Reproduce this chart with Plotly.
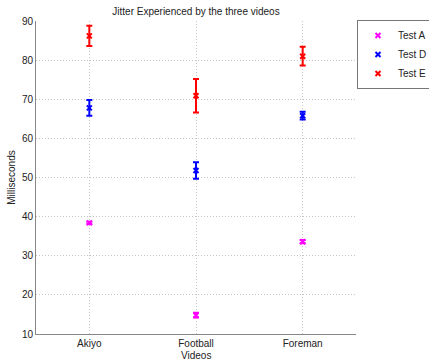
import plotly.graph_objects as go

videos = ["Akiyo", "Football", "Foreman"]
series_names = ["Test A", "Test D", "Test E"]
colors = ["#ff00ff", "#0000ff", "#ff0000"]
test_a = [38.4, 14.8, 33.6]
test_a_err = [0.3, 0.6, 0.4]
test_d = [67.8, 51.8, 65.8]
test_d_err = [2.0, 2.1, 1.0]
test_e = [86.2, 70.9, 81.0]
test_e_err = [2.6, 4.3, 2.4]

values = [test_a, test_d, test_e]
errors = [test_a_err, test_d_err, test_e_err]

font = "Liberation Sans, Arial, sans-serif"
fig = go.Figure()
for name, col, v, e in zip(series_names, colors, values, errors):
    fig.add_trace(go.Scatter(
        x=videos, y=v, name=name, mode="markers",
        marker=dict(symbol="x-thin", size=5, color=col, line=dict(width=2, color=col)),
        error_y=dict(type="data", array=e, visible=True, color=col, thickness=2, width=3),
    ))

fig.update_layout(
    width=429, height=360,
    margin=dict(l=36, r=73, t=21, b=26, autoexpand=False),
    paper_bgcolor="white", plot_bgcolor="white",
    font=dict(family=font, size=10, color="#222"),
    title=dict(text="Jitter Experienced by the three videos", x=(36+160)/429, xanchor="center",
               y=1-11/360, yanchor="middle", font=dict(size=10, family=font, color="#222")),
    showlegend=True,
    legend=dict(xref="container", yref="container", x=357/429, y=1-20/360, xanchor="left", yanchor="top",
                bordercolor="#777", borderwidth=1, bgcolor="white",
                font=dict(size=10, family=font), itemwidth=30, tracegroupgap=0),
    xaxis=dict(range=[-0.5, 2.5], showgrid=True, gridcolor="#c4c4c4", griddash="1px,2px", gridwidth=1,
               showline=True, linecolor="#888", linewidth=1, ticks="", zeroline=False, automargin=False,
               tickfont=dict(size=10)),
    yaxis=dict(range=[10, 90], dtick=10, showgrid=True, gridcolor="#c4c4c4", griddash="1px,2px", gridwidth=1,
               showline=True, linecolor="#888", linewidth=1, ticks="", zeroline=False, automargin=False,
               title=dict(text="Milliseconds", standoff=4, font=dict(size=10)), tickfont=dict(size=10)),
    annotations=[dict(text="Videos", xref="paper", yref="paper", x=0.5, y=-(355 - 334) / 313,
                      xanchor="center", yanchor="middle", showarrow=False,
                      font=dict(size=10, family=font, color="#222"))],
)
fig.write_html("out.html")
